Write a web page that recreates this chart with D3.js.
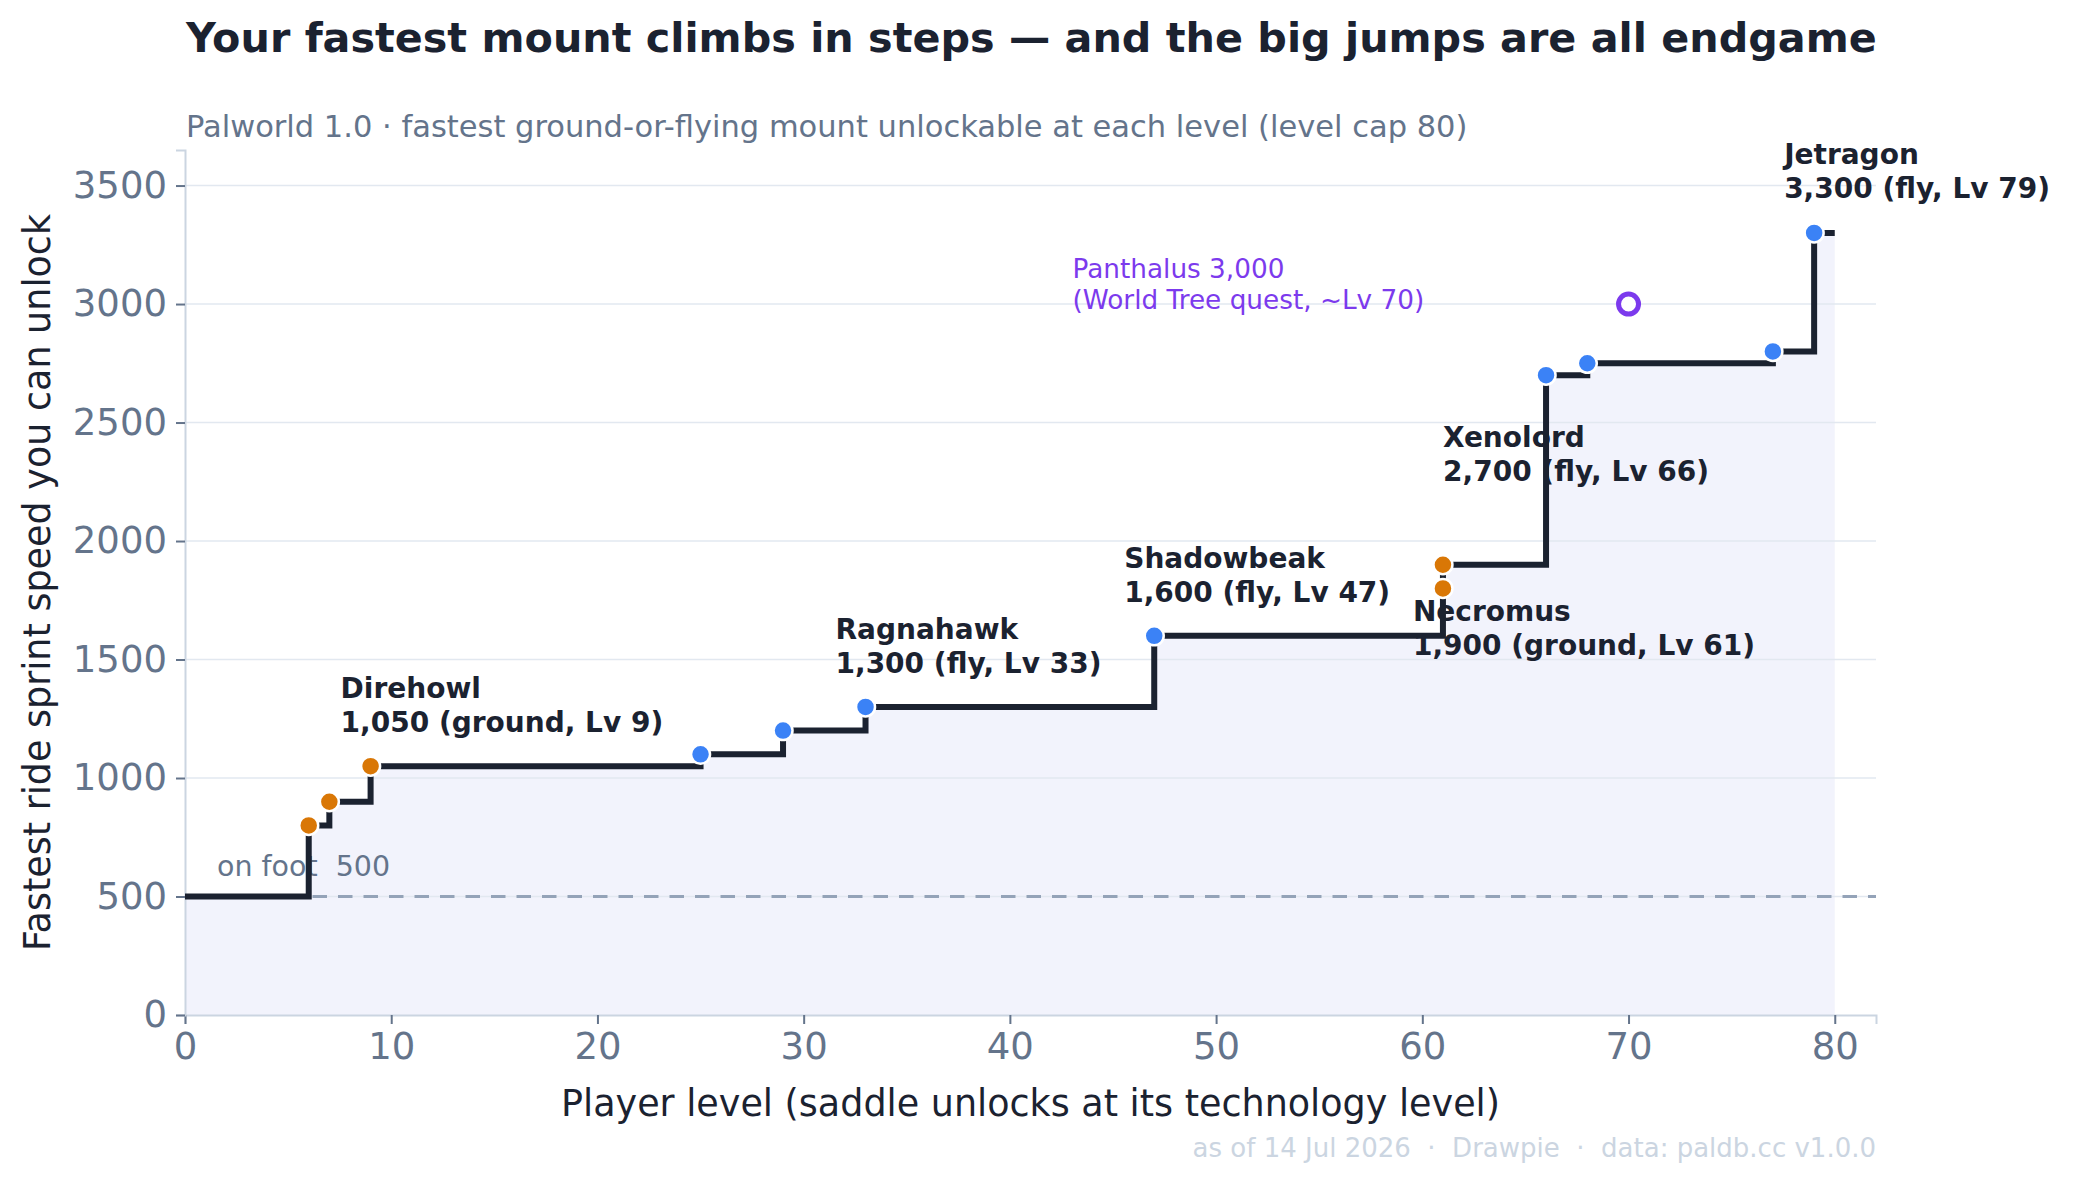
<!DOCTYPE html>
<html>
<head>
<meta charset="utf-8">
<script src="https://cdn.jsdelivr.net/npm/d3@7"></script>
<style>
  html, body { margin: 0; padding: 0; background: #fff; }
  svg { display: block; font-family: "DejaVu Sans", sans-serif; }
</style>
</head>
<body>
<svg id="chart" width="2073" height="1185"></svg>
<script>
// best ride speed available at each level (step-after)
const stepLevels = [0, 6, 7, 9, 25, 29, 33, 47, 61, 66, 68, 77, 79, 80];
const stepSpeeds = [500, 800, 900, 1050, 1100, 1200, 1300, 1600, 1900, 2700, 2750, 2800, 3300, 3300];

// every mount that raises the ceiling
const mountNames  = ['', '', 'Direhowl', '', '', 'Ragnahawk', 'Shadowbeak', '', 'Necromus', 'Xenolord', '', '', 'Jetragon'];
const mountLevels = [6, 7, 9, 25, 29, 33, 47, 61, 61, 66, 68, 77, 79];
const mountSpeeds = [800, 900, 1050, 1100, 1200, 1300, 1600, 1800, 1900, 2700, 2750, 2800, 3300];
const mountKinds  = ['ground', 'ground', 'ground', 'fly', 'fly', 'fly', 'fly', 'ground', 'ground', 'fly', 'fly', 'fly', 'fly'];

const onFootSpeed = 500;
const questName = 'Panthalus';
const questLevel = 70;
const questSpeed = 3000;
const questNote = '(World Tree quest, ~Lv 70)';

const xTicks = [0, 10, 20, 30, 40, 50, 60, 70, 80];
const yTicks = [0, 500, 1000, 1500, 2000, 2500, 3000, 3500];

const svg = d3.select('#chart');
const ink = '#1b2230';
const muted = '#64748b';
const kindColor = { ground: '#d97706', fly: '#3b82f6' };

const x = d3.scaleLinear().domain([0, 82]).range([185, 1876]);
const y = d3.scaleLinear().domain([0, 3650]).range([1015, 150]);

// fill under the step
const area = d3.area()
  .curve(d3.curveStepAfter)
  .x((d, i) => x(stepLevels[i]))
  .y0(y(0))
  .y1((d, i) => y(stepSpeeds[i]));
svg.append('path')
  .datum(stepLevels)
  .attr('d', area)
  .attr('fill', '#f2f3fc');

// horizontal grid
svg.append('g')
  .selectAll('line')
  .data(yTicks.slice(1))
  .join('line')
  .attr('x1', x(0)).attr('x2', x(82))
  .attr('y1', d => y(d)).attr('y2', d => y(d))
  .attr('stroke', '#e2e8f0')
  .attr('stroke-width', 1.5);

// on foot baseline
svg.append('line')
  .attr('x1', x(0)).attr('x2', x(82))
  .attr('y1', y(onFootSpeed)).attr('y2', y(onFootSpeed))
  .attr('stroke', '#94a3b8')
  .attr('stroke-width', 3.2)
  .attr('stroke-dasharray', '14.5,11');
svg.append('text')
  .attr('x', x(1.55)).attr('y', y(onFootSpeed) - 21)
  .attr('fill', muted)
  .attr('font-size', 28.5)
  .attr('xml:space', 'preserve')
  .text('on foot  ' + onFootSpeed);

// axes
const xAxis = svg.append('g')
  .attr('transform', `translate(0,${y(0)})`)
  .call(d3.axisBottom(x).tickValues(xTicks).tickSize(9).tickPadding(9));
const yAxis = svg.append('g')
  .attr('transform', `translate(${x(0)},0)`)
  .call(d3.axisLeft(y).tickValues(yTicks).tickSize(9).tickPadding(9).tickFormat(d3.format('d')));
[xAxis, yAxis].forEach(g => {
  g.select('.domain').attr('stroke', '#cbd5e1').attr('stroke-width', 2);
  g.selectAll('.tick line').attr('stroke', muted).attr('stroke-width', 2);
  g.selectAll('.tick text').attr('fill', muted).attr('font-size', 37)
    .attr('font-family', '"DejaVu Sans", sans-serif');
});

// step line
const line = d3.line()
  .curve(d3.curveStepAfter)
  .x((d, i) => x(stepLevels[i]))
  .y((d, i) => y(stepSpeeds[i]));
svg.append('path')
  .datum(stepLevels)
  .attr('d', line)
  .attr('fill', 'none')
  .attr('stroke', ink)
  .attr('stroke-width', 6);

// mount dots
svg.append('g')
  .selectAll('circle')
  .data(mountLevels)
  .join('circle')
  .attr('cx', d => x(d))
  .attr('cy', (d, i) => y(mountSpeeds[i]))
  .attr('r', 9.5)
  .attr('fill', (d, i) => kindColor[mountKinds[i]])
  .attr('stroke', '#fff')
  .attr('stroke-width', 2.5);

// labels: [dx, dy of first baseline] relative to the dot
const placement = {
  Direhowl: [-30, -68],
  Ragnahawk: [-30, -68],
  Shadowbeak: [-30, -68],
  Necromus: [-30, 56],
  Xenolord: [-103, 72],
  Jetragon: [-30, -69]
};
mountNames.forEach((name, i) => {
  if (!name) return;
  const p = placement[name];
  const t = svg.append('text')
    .attr('x', x(mountLevels[i]) + p[0])
    .attr('y', y(mountSpeeds[i]) + p[1])
    .attr('fill', ink)
    .attr('font-size', 28)
    .attr('font-weight', 'bold');
  t.append('tspan').text(name);
  t.append('tspan')
    .attr('x', x(mountLevels[i]) + p[0])
    .attr('dy', 34)
    .text(`${d3.format(',')(mountSpeeds[i])} (${mountKinds[i]}, Lv ${mountLevels[i]})`);
});

// quest-only mount
svg.append('circle')
  .attr('cx', x(questLevel)).attr('cy', y(questSpeed))
  .attr('r', 10)
  .attr('fill', '#fff')
  .attr('stroke', '#7c3aed')
  .attr('stroke-width', 5);
const q = svg.append('text')
  .attr('x', x(questLevel) - 556)
  .attr('y', y(questSpeed) - 26)
  .attr('fill', '#7c3aed')
  .attr('font-size', 26.3);
q.append('tspan').text(`${questName} ${d3.format(',')(questSpeed)}`);
q.append('tspan').attr('x', x(questLevel) - 556).attr('dy', 31).text(questNote);

// titles
svg.append('text')
  .attr('x', 186).attr('y', 52)
  .attr('fill', ink)
  .attr('font-size', 41.3)
  .attr('font-weight', 'bold')
  .text('Your fastest mount climbs in steps \u2014 and the big jumps are all endgame');
svg.append('text')
  .attr('x', 186).attr('y', 137)
  .attr('fill', muted)
  .attr('font-size', 30.5)
  .text('Palworld 1.0 \u00b7 fastest ground-or-flying mount unlockable at each level (level cap 80)');

svg.append('text')
  .attr('x', (x(0) + x(82)) / 2).attr('y', 1116)
  .attr('text-anchor', 'middle')
  .attr('fill', ink)
  .attr('font-size', 36.5)
  .text('Player level (saddle unlocks at its technology level)');
svg.append('text')
  .attr('transform', `translate(50,${(y(0) + y(3650)) / 2}) rotate(-90)`)
  .attr('text-anchor', 'middle')
  .attr('fill', ink)
  .attr('font-size', 36.5)
  .text('Fastest ride sprint speed you can unlock');

svg.append('text')
  .attr('x', x(82)).attr('y', 1157)
  .attr('text-anchor', 'end')
  .attr('fill', '#cbd5e1')
  .attr('font-size', 26)
  .attr('xml:space', 'preserve')
  .text('as of 14 Jul 2026  \u00b7  Drawpie  \u00b7  data: paldb.cc v1.0.0');
</script>
</body>
</html>
